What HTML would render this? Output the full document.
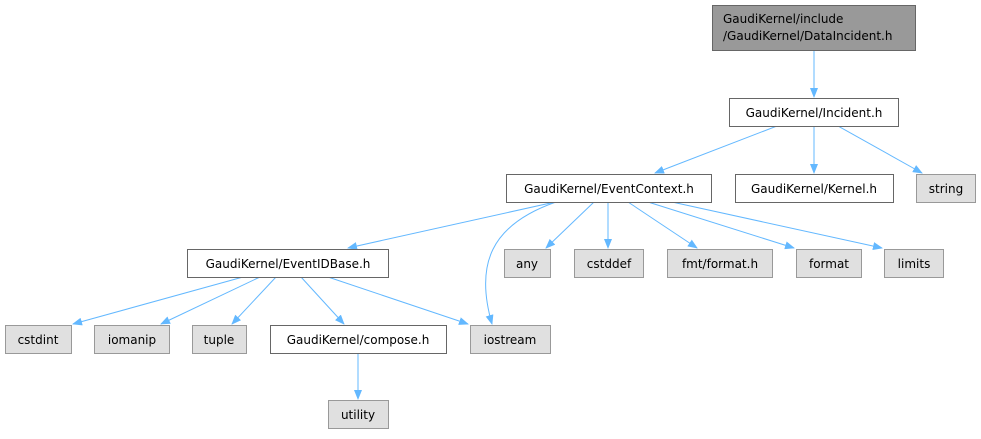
<!DOCTYPE html>
<html><head><meta charset="utf-8"><style>
html,body{margin:0;padding:0;background:#fff;}
svg text{font-family:"DejaVu Sans","Liberation Sans",sans-serif;font-size:12px;fill:#000;text-anchor:middle;}
</style></head><body>
<svg width="981" height="434" viewBox="0 0 981 434" xmlns="http://www.w3.org/2000/svg">
<defs><marker id="a" markerWidth="10" markerHeight="8" refX="9" refY="4" orient="auto" markerUnits="userSpaceOnUse"><path d="M0,0 L10,4 L0,8 z" fill="#63b8ff"/></marker></defs>
<g stroke="#63b8ff" stroke-width="1" fill="none" marker-end="url(#a)">
<line x1="814" y1="50" x2="814" y2="97"/>
<line x1="777" y1="126" x2="655" y2="173"/>
<line x1="814" y1="126" x2="814" y2="173"/>
<line x1="838" y1="126" x2="922" y2="173"/>
<line x1="555" y1="202" x2="348" y2="248"/>
<path d="M556,202 C490,225 475,265 492,324"/>
<line x1="594" y1="202" x2="546" y2="248"/>
<line x1="608" y1="202" x2="608" y2="248"/>
<line x1="628" y1="202" x2="697" y2="248"/>
<line x1="648" y1="202" x2="794" y2="248"/>
<line x1="672" y1="202" x2="882" y2="248"/>
<line x1="243" y1="277" x2="73" y2="324"/>
<line x1="260" y1="277" x2="161" y2="324"/>
<line x1="276" y1="277" x2="232" y2="324"/>
<line x1="301" y1="277" x2="344" y2="324"/>
<line x1="328" y1="277" x2="468" y2="324"/>
<line x1="358" y1="353" x2="358" y2="399"/>
</g>
<g stroke-width="1">
<rect x="712.5" y="5.5" width="203" height="45" fill="#999" stroke="#666"/>
<rect x="729.5" y="98.5" width="169" height="28" fill="#fff" stroke="#666"/>
<rect x="506.5" y="174.5" width="205" height="28" fill="#fff" stroke="#666"/>
<rect x="735.5" y="174.5" width="158" height="28" fill="#fff" stroke="#666"/>
<rect x="916.5" y="174.5" width="59" height="28" fill="#e0e0e0" stroke="#999"/>
<rect x="187.5" y="249.5" width="201" height="28" fill="#fff" stroke="#666"/>
<rect x="504.5" y="249.5" width="46" height="28" fill="#e0e0e0" stroke="#999"/>
<rect x="574.5" y="249.5" width="69" height="28" fill="#e0e0e0" stroke="#999"/>
<rect x="667.5" y="249.5" width="105" height="28" fill="#e0e0e0" stroke="#999"/>
<rect x="796.5" y="249.5" width="65" height="28" fill="#e0e0e0" stroke="#999"/>
<rect x="884.5" y="249.5" width="59" height="28" fill="#e0e0e0" stroke="#999"/>
<rect x="5.5" y="325.5" width="66" height="28" fill="#e0e0e0" stroke="#999"/>
<rect x="94.5" y="325.5" width="75" height="28" fill="#e0e0e0" stroke="#999"/>
<rect x="192.5" y="325.5" width="54" height="28" fill="#e0e0e0" stroke="#999"/>
<rect x="270.5" y="325.5" width="176" height="28" fill="#fff" stroke="#666"/>
<rect x="470.5" y="325.5" width="80" height="28" fill="#e0e0e0" stroke="#999"/>
<rect x="328.5" y="400.5" width="60" height="28" fill="#e0e0e0" stroke="#999"/>
</g>
<text x="723" y="23" style="text-anchor:start">GaudiKernel/include</text>
<text x="723" y="40" style="text-anchor:start">/GaudiKernel/DataIncident.h</text>
<text x="814" y="117">GaudiKernel/Incident.h</text>
<text x="609" y="193">GaudiKernel/EventContext.h</text>
<text x="814" y="193">GaudiKernel/Kernel.h</text>
<text x="946" y="193">string</text>
<text x="288" y="268">GaudiKernel/EventIDBase.h</text>
<text x="527" y="268">any</text>
<text x="609" y="268">cstddef</text>
<text x="720" y="268">fmt/format.h</text>
<text x="829" y="268">format</text>
<text x="914" y="268">limits</text>
<text x="38" y="344">cstdint</text>
<text x="132" y="344">iomanip</text>
<text x="219" y="344">tuple</text>
<text x="358" y="344">GaudiKernel/compose.h</text>
<text x="510" y="344">iostream</text>
<text x="358" y="419">utility</text>
</svg>
</body></html>
